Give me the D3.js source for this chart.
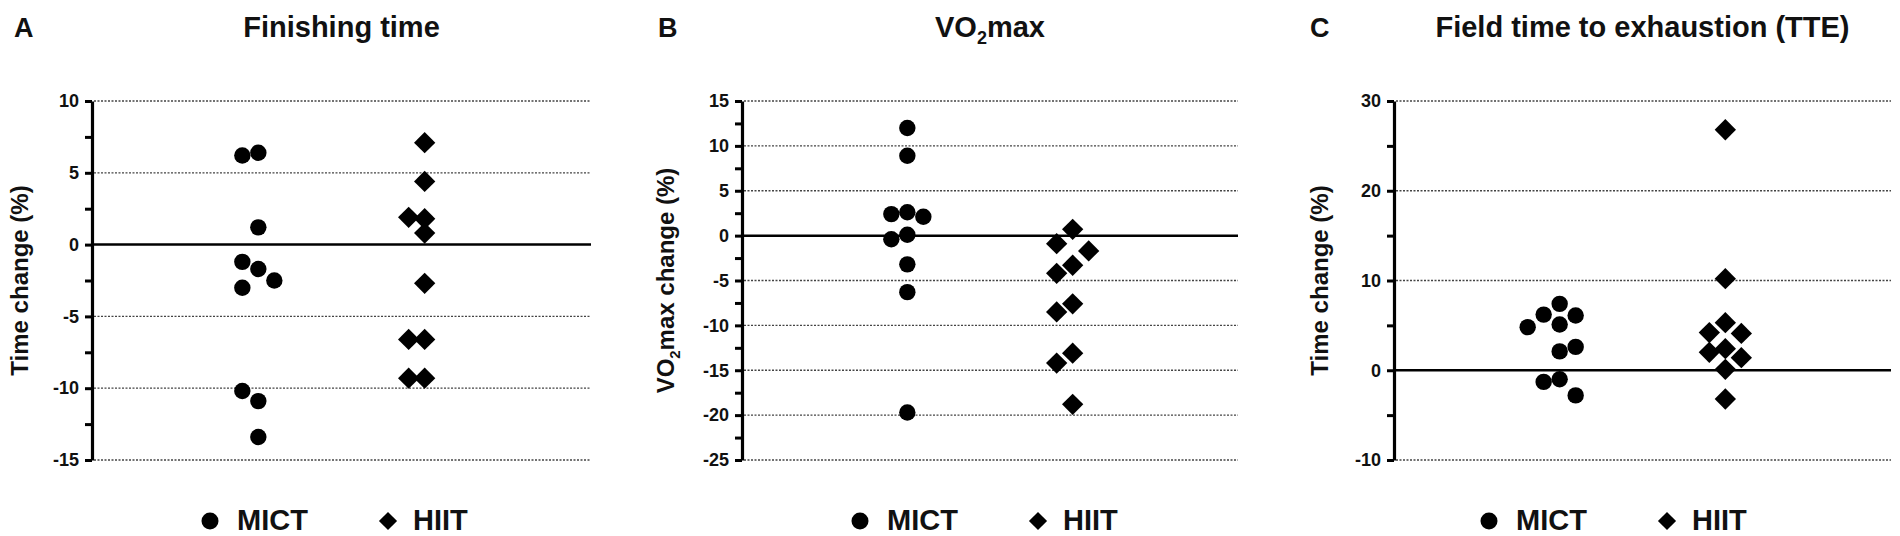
<!DOCTYPE html>
<html>
<head>
	<meta charset="utf-8">
	<script src="https://d3js.org/d3.v7.min.js"></script>
	<title>Change scores MICT vs HIIT</title>
	<style>
		body { margin: 0; background: #fff; }
		svg text { font-family: "Liberation Sans", Arial, sans-serif; font-weight: bold; fill: #111; }
	</style>
</head>
<body>
	<svg id="chart" width="1900" height="536"></svg>
	<script>
		// groups shown in every panel
		var groups = ["MICT", "HIIT"];

		// A: finishing time change (%)
		var finishMict     = [6.2, 6.4, 1.2, -1.2, -1.7, -2.5, -3.0, -10.2, -10.9, -13.4];
		var finishMictSlot = [-1, 0, 0, -1, 0, 1, -1, -1, 0, 0];
		var finishHiit     = [7.1, 4.4, 1.9, 1.8, 0.8, -2.7, -6.6, -6.6, -9.3, -9.3];
		var finishHiitSlot = [0, 0, -1, 0, 0, 0, -1, 0, -1, 0];
		var finishTicks    = [10, 5, 0, -5, -10, -15];
		var finishMinor    = [7.5, 2.5, -2.5, -7.5, -12.5];

		// B: VO2max change (%)
		var vo2Mict     = [12.0, 8.9, 2.4, 2.6, 2.1, -0.4, 0.1, -3.2, -6.3, -19.7];
		var vo2MictSlot = [0, 0, -1, 0, 1, -1, 0, 0, 0, 0];
		var vo2Hiit     = [0.7, -0.9, -1.7, -3.3, -4.2, -7.6, -8.5, -13.1, -14.2, -18.8];
		var vo2HiitSlot = [0, -1, 1, 0, -1, 0, -1, 0, -1, 0];
		var vo2Ticks    = [15, 10, 5, 0, -5, -10, -15, -20, -25];
		var vo2Minor    = [12.5, 7.5, 2.5, -2.5, -7.5, -12.5, -17.5, -22.5];

		// C: field time to exhaustion change (%)
		var tteMict     = [7.4, 6.2, 6.1, 4.8, 5.1, 2.6, 2.1, -1.3, -1.0, -2.8];
		var tteMictSlot = [0, -1, 1, -2, 0, 1, 0, -1, 0, 1];
		var tteHiit     = [26.8, 10.2, 5.3, 4.2, 4.1, 2.4, 2.0, 1.4, 0.1, -3.2];
		var tteHiitSlot = [0, 0, 0, -1, 1, 0, -1, 1, 0, 0];
		var tteTicks    = [30, 20, 10, 0, -10];
		var tteMinor    = [25, 15, 5, -5];

		var panels = [
			{ letter: "A", title: [["Finishing time"]], ylabel: [["Time change (%)"]],
			  mict: finishMict, mictSlot: finishMictSlot, hiit: finishHiit, hiitSlot: finishHiitSlot,
			  ticks: finishTicks, minor: finishMinor,
			  x0: 92, x1: 591, letterX: 14, labelX: 20, legendShift: 0 },
			{ letter: "B", title: [["VO"], ["2", "sub"], ["max", "up"]], ylabel: [["VO"], ["2", "sub"], ["max change (%)", "up"]],
			  mict: vo2Mict, mictSlot: vo2MictSlot, hiit: vo2Hiit, hiitSlot: vo2HiitSlot,
			  ticks: vo2Ticks, minor: vo2Minor,
			  x0: 742, x1: 1238, letterX: 658, labelX: 666, legendShift: 0 },
			{ letter: "C", title: [["Field time to exhaustion (TTE)"]], ylabel: [["Time change (%)"]],
			  mict: tteMict, mictSlot: tteMictSlot, hiit: tteHiit, hiitSlot: tteHiitSlot,
			  ticks: tteTicks, minor: tteMinor,
			  x0: 1394, x1: 1891, letterX: 1310, labelX: 1320, legendShift: -23 }
		];

		var svg = d3.select("#chart");
		var plotTop = 101, plotBottom = 460;
		var slot = d3.scaleLinear().domain([-1, 1]).range([-16, 16]);
		var diamond = d3.symbol().type(d3.symbolDiamond2);

		function addRich(sel, parts, size) {
			parts.forEach(function(p) {
				var t = sel.append("tspan").text(p[0]);
				if (p[1] == "sub") {
					t.attr("font-size", size * 0.62).attr("dy", size * 0.25);
				} else if (p[1] == "up") {
					t.attr("dy", -size * 0.25);
				}
			});
		}

		panels.forEach(function(p) {
			var g = svg.append("g");
			var y = d3.scaleLinear().domain(d3.extent(p.ticks)).range([plotBottom, plotTop]);
			var x = d3.scalePoint().domain(groups).range([p.x0, p.x1]).padding(1);

			// dotted grid lines, solid zero line
			g.selectAll("line.grid").data(p.ticks.filter(d => d != 0)).enter()
				.append("line").attr("class", "grid")
				.attr("x1", p.x0 + 2).attr("x2", p.x1)
				.attr("y1", d => y(d)).attr("y2", d => y(d))
				.attr("stroke", "#444").attr("stroke-width", 1.3)
				.attr("stroke-dasharray", "2,1.5");
			g.append("line")
				.attr("x1", p.x0).attr("x2", p.x1)
				.attr("y1", y(0)).attr("y2", y(0))
				.attr("stroke", "#000").attr("stroke-width", 2.5);

			// axis with major and minor ticks
			var axis = g.append("g").attr("transform", "translate(" + p.x0 + ",0)")
				.call(d3.axisLeft(y).tickValues(p.ticks).tickSize(7).tickSizeOuter(0).tickPadding(6)
					.tickFormat(d => String(d)));
			axis.select(".domain").attr("stroke-width", 3.2);
			axis.selectAll(".tick line").attr("stroke-width", 3);
			axis.selectAll(".tick text").attr("font-size", 18).attr("font-family", null).attr("fill", "#111");
			var minor = g.append("g").attr("transform", "translate(" + p.x0 + ",0)")
				.call(d3.axisLeft(y).tickValues(p.minor).tickSize(7).tickSizeOuter(0).tickFormat(""));
			minor.select(".domain").remove();
			minor.selectAll(".tick line").attr("stroke-width", 3);

			// points
			g.selectAll("circle.mict").data(p.mict).enter()
				.append("circle").attr("class", "mict")
				.attr("cx", (d, i) => x("MICT") + slot(p.mictSlot[i]))
				.attr("cy", d => y(d))
				.attr("r", 8.2).attr("fill", "#000");
			g.selectAll("path.hiit").data(p.hiit).enter()
				.append("path").attr("class", "hiit")
				.attr("d", diamond.size(290))
				.attr("transform", (d, i) => "translate(" + (x("HIIT") + slot(p.hiitSlot[i])) + "," + y(d) + ")")
				.attr("fill", "#000");

			// panel letter and title
			g.append("text").attr("x", p.letterX).attr("y", 37).attr("font-size", 27).text(p.letter);
			var title = g.append("text").attr("x", (p.x0 + p.x1) / 2).attr("y", 37)
				.attr("text-anchor", "middle").attr("font-size", 29);
			addRich(title, p.title, 29);

			// y label
			var lab = g.append("text")
				.attr("transform", "translate(" + (p.labelX + 8) + "," + ((plotTop + plotBottom) / 2) + ") rotate(-90)")
				.attr("text-anchor", "middle").attr("font-size", 24);
			addRich(lab, p.ylabel, 24);

			// legend
			var lx = p.x0 + p.legendShift;
			g.append("circle").attr("cx", lx + 118).attr("cy", 521).attr("r", 8.5).attr("fill", "#000");
			g.append("text").attr("x", lx + 145).attr("y", 530).attr("font-size", 29).text(groups[0]);
			g.append("path").attr("d", diamond.size(210))
				.attr("transform", "translate(" + (lx + 296) + ",521)").attr("fill", "#000");
			g.append("text").attr("x", lx + 321).attr("y", 530).attr("font-size", 29).text(groups[1]);
		});
	</script>
</body>
</html>
